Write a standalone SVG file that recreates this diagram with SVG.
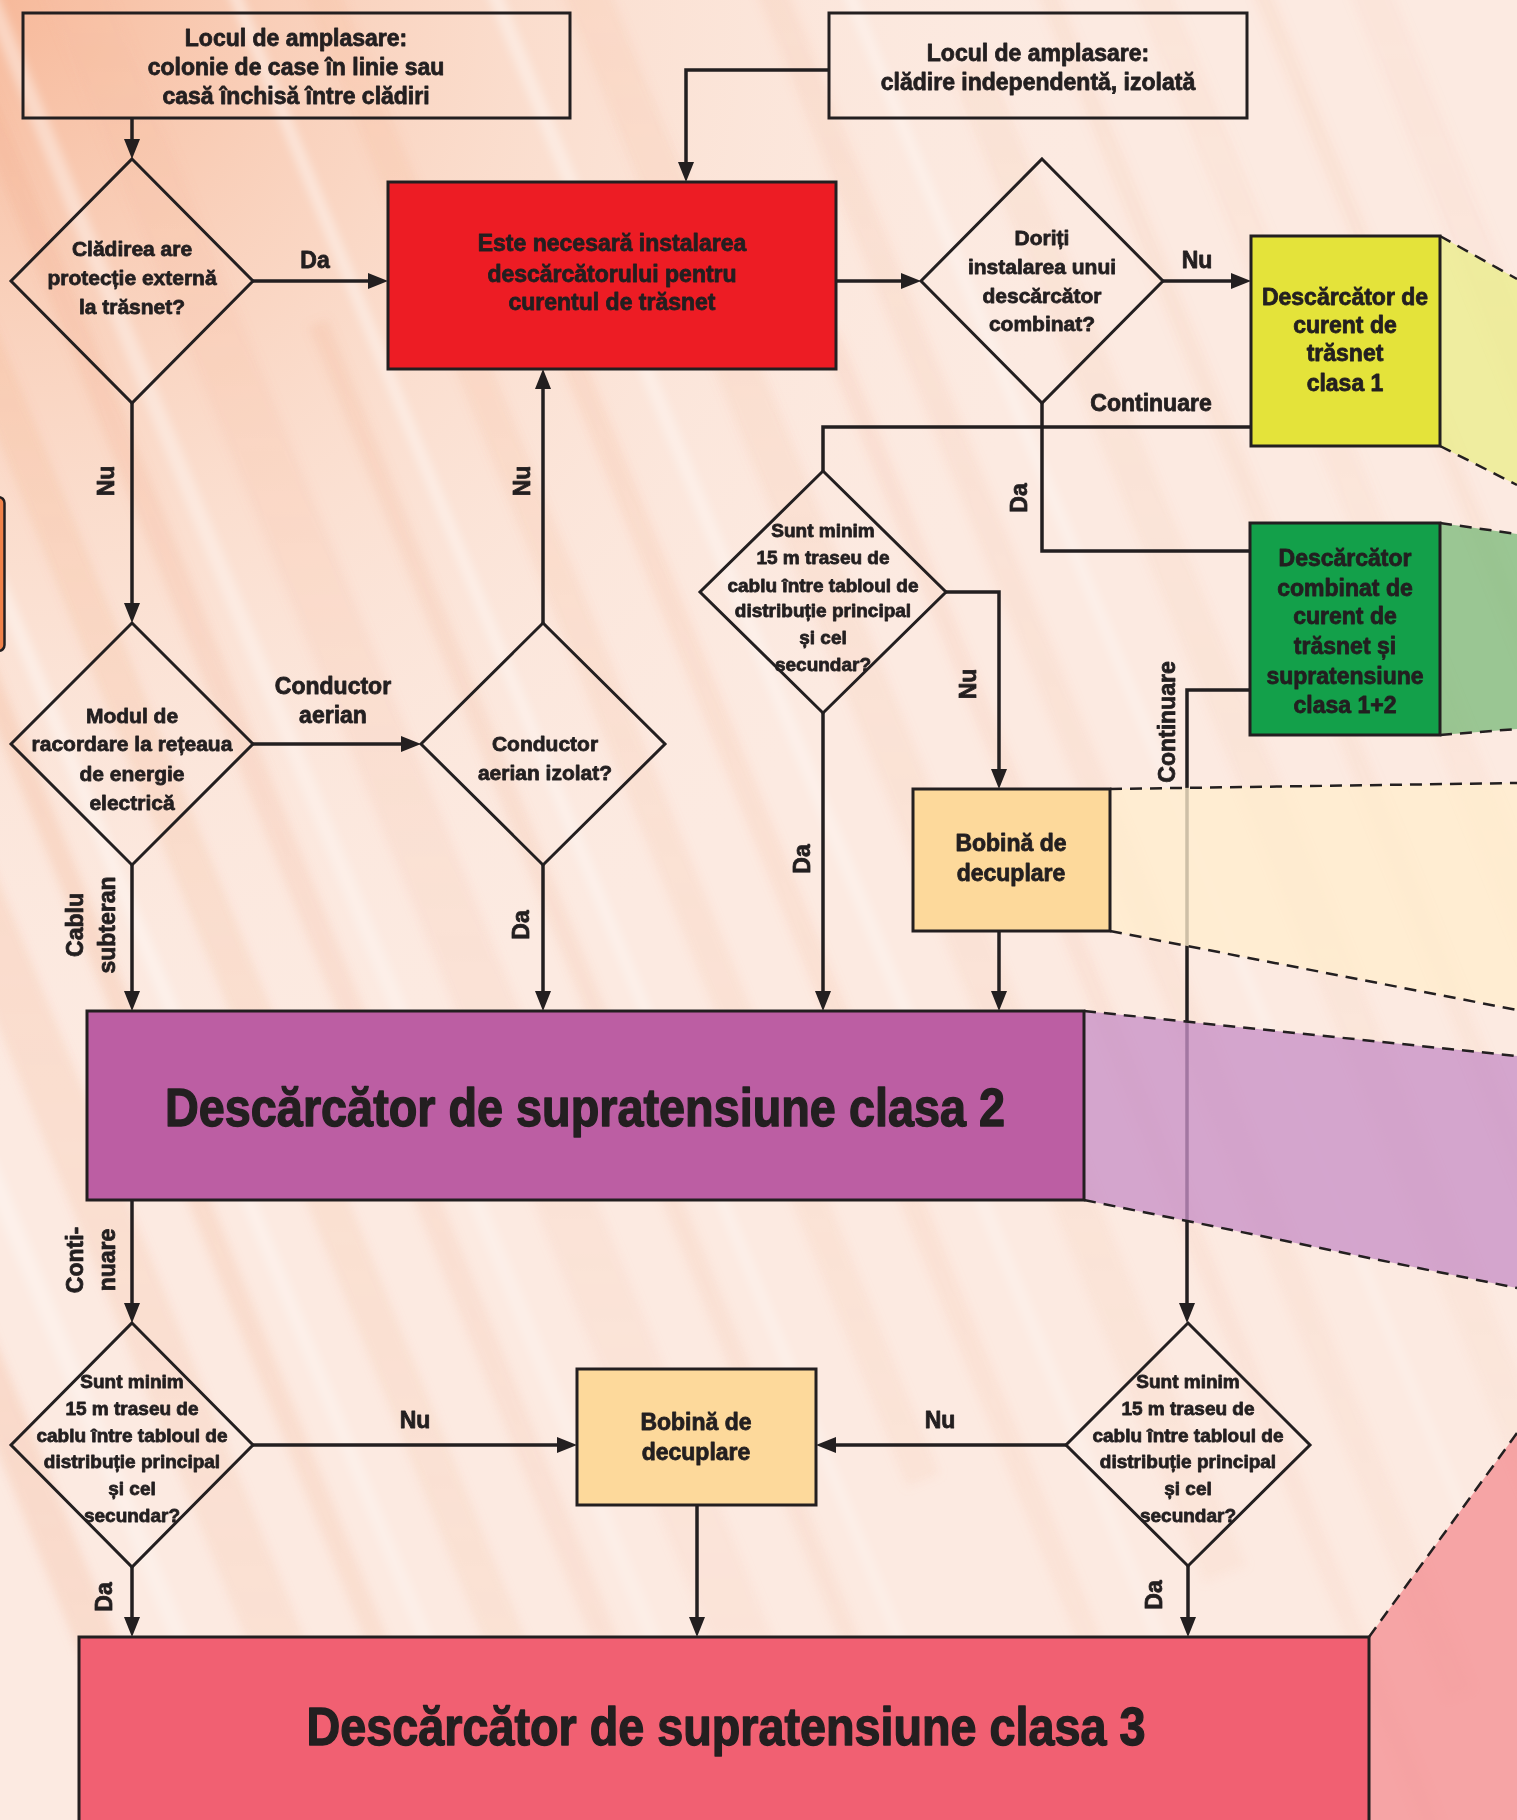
<svg xmlns="http://www.w3.org/2000/svg" width="1517" height="1820" viewBox="0 0 1517 1820">
<style>
.t{font-family:'Liberation Sans',Arial,'DejaVu Sans',sans-serif;font-weight:bold;fill:#231F20;stroke:#231F20;stroke-width:0.8;stroke-linejoin:round;text-anchor:middle}
.tb{font-size:23px}
.td{font-size:21px}
.ts{font-size:19px}
.tl{font-size:23px}
.tt{font-size:53px;stroke-width:1.4}
.box{stroke:#231F20;stroke-width:3}
.open{fill:none;stroke:#231F20;stroke-width:3}
.con{fill:none;stroke:#231F20;stroke-width:3.5}
.arr{marker-end:url(#ah)}
.dash{fill:none;stroke:#231F20;stroke-width:2.5;stroke-dasharray:12 8}
.ext{stroke:none;opacity:0.78}
</style>
<defs>
<marker id="ah" markerUnits="userSpaceOnUse" markerWidth="20" markerHeight="16" refX="15" refY="8" orient="auto">
<path d="M0,0 L20,8 L0,16 Z" fill="#231F20"/>
</marker>
<radialGradient id="bgOr" cx="0" cy="0" r="1100" gradientUnits="userSpaceOnUse">
<stop offset="0" stop-color="#F5A983" stop-opacity="0.75"/>
<stop offset="0.5" stop-color="#F8C3A5" stop-opacity="0.3"/>
<stop offset="1" stop-color="#FCE6DA" stop-opacity="0"/>
</radialGradient>
<linearGradient id="fadeG" x1="0" y1="0" x2="0" y2="1">
<stop offset="0" stop-color="#fff" stop-opacity="1"/>
<stop offset="0.55" stop-color="#fff" stop-opacity="0.7"/>
<stop offset="1" stop-color="#fff" stop-opacity="0.45"/>
</linearGradient>
<mask id="fade" maskUnits="userSpaceOnUse" x="0" y="0" width="1517" height="1820">
<rect x="0" y="0" width="1517" height="1820" fill="url(#fadeG)"/>
</mask>
<filter id="blur" x="-20%" y="-20%" width="140%" height="140%"><feGaussianBlur stdDeviation="5"/></filter>
</defs>

<g id="background">
<rect x="0" y="0" width="1517" height="1820" fill="#FCEAE1"/>
<rect x="0" y="0" width="1517" height="1820" fill="url(#bgOr)"/>
<g mask="url(#fade)">
<g filter="url(#blur)" transform="rotate(-22 760 910)">
<rect x="-150" y="-700" width="40" height="3400" fill="#F3A57F" opacity="0.4"/>
<rect x="-60" y="-700" width="18" height="3400" fill="#FFFFFF" opacity="0.5"/>
<rect x="10" y="-700" width="55" height="3400" fill="#F4AE8A" opacity="0.3"/>
<rect x="120" y="-700" width="22" height="3400" fill="#F2A27C" opacity="0.3"/>
<rect x="170" y="-700" width="14" height="3400" fill="#FFFFFF" opacity="0.5"/>
<rect x="230" y="-200" width="40" height="2000" fill="#F5B593" opacity="0.3"/>
<rect x="330" y="-700" width="26" height="3400" fill="#F3A986" opacity="0.25"/>
<rect x="380" y="-700" width="16" height="3400" fill="#FFFFFF" opacity="0.4"/>
<rect x="440" y="-700" width="60" height="2600" fill="#F7C1A4" opacity="0.25"/>
<rect x="560" y="200" width="20" height="3000" fill="#F4B08E" opacity="0.25"/>
<rect x="610" y="-700" width="12" height="3400" fill="#FFFFFF" opacity="0.45"/>
<rect x="680" y="-700" width="35" height="2200" fill="#F6BC9D" opacity="0.25"/>
<rect x="780" y="300" width="24" height="3000" fill="#F3AB88" opacity="0.2"/>
<rect x="850" y="-700" width="14" height="3400" fill="#FFFFFF" opacity="0.4"/>
<rect x="920" y="-700" width="45" height="2400" fill="#F7C4A8" opacity="0.25"/>
<rect x="1030" y="400" width="20" height="3000" fill="#F4B394" opacity="0.2"/>
<rect x="1100" y="-700" width="30" height="2600" fill="#F6BEA1" opacity="0.2"/>
<rect x="1180" y="-700" width="12" height="3400" fill="#FFFFFF" opacity="0.35"/>
<rect x="1250" y="200" width="40" height="3000" fill="#F7C6AB" opacity="0.2"/>
<rect x="1360" y="-700" width="20" height="3400" fill="#F4B596" opacity="0.15"/>
<rect x="1450" y="-700" width="35" height="3400" fill="#F7C8AE" opacity="0.15"/>
<rect x="1560" y="-700" width="18" height="3400" fill="#F4B596" opacity="0.15"/>
<rect x="1650" y="-700" width="40" height="3400" fill="#F8CCB4" opacity="0.15"/>
</g>
</g>
<rect x="-30" y="497" width="34.5" height="154" rx="6" fill="#F0824A" stroke="#231F20" stroke-width="2.5"/>
</g>

<g id="connectors">
<path class="con arr" d="M132,118 V154"/>
<path class="con arr" d="M253,281 H383"/>
<path class="con arr" d="M829,70 H686 V177"/>
<path class="con arr" d="M836,281 H916"/>
<path class="con arr" d="M1163,281 H1246"/>
<path class="con" d="M1251,427 H823 V471"/>
<path class="con" d="M1042,403 V551 H1250"/>
<path class="con arr" d="M132,403 V618"/>
<path class="con arr" d="M253,744 H416"/>
<path class="con arr" d="M543,623 V374"/>
<path class="con arr" d="M132,865 V1006"/>
<path class="con arr" d="M543,865 V1006"/>
<path class="con arr" d="M946,592 H999 V784"/>
<path class="con arr" d="M823,713 V1006"/>
<path class="con arr" d="M999,931 V1006"/>
<path class="con arr" d="M1250,690 H1187 V1318"/>
<path class="con arr" d="M132,1200 V1318"/>
<path class="con arr" d="M253,1445 H572"/>
<path class="con arr" d="M1066,1445 H821"/>
<path class="con arr" d="M132,1567 V1632"/>
<path class="con arr" d="M697,1505 V1632"/>
<path class="con arr" d="M1188,1566 V1632"/>
<g class="t tl">
<text x="315" y="268">Da</text>
<text x="1197" y="268">Nu</text>
<text x="1151" y="411">Continuare</text>
<text x="333" y="694">Conductor</text>
<text x="333" y="723">aerian</text>
<text x="415" y="1428">Nu</text>
<text x="940" y="1428">Nu</text>
<text transform="translate(106,481) rotate(-90)" y="8.2">Nu</text>
<text transform="translate(522,481) rotate(-90)" y="8.2">Nu</text>
<text transform="translate(75,925) rotate(-90)" y="8.2">Cablu</text>
<text transform="translate(107,925) rotate(-90)" y="8.2">subteran</text>
<text transform="translate(521,925) rotate(-90)" y="8.2">Da</text>
<text transform="translate(1019,498) rotate(-90)" y="8.2">Da</text>
<text transform="translate(968,684) rotate(-90)" y="8.2">Nu</text>
<text transform="translate(802,859) rotate(-90)" y="8.2">Da</text>
<text transform="translate(1167,722) rotate(-90)" y="8.2">Continuare</text>
<text transform="translate(75,1260) rotate(-90)" y="8.2">Conti-</text>
<text transform="translate(107,1260) rotate(-90)" y="8.2">nuare</text>
<text transform="translate(104,1597) rotate(-90)" y="8.2">Da</text>
<text transform="translate(1154,1595) rotate(-90)" y="8.2">Da</text>
</g>
</g>

<g id="extensions">
<polygon class="ext" points="1440,236 1517,279 1517,485 1440,446" fill="#EAED8C"/>
<polygon class="ext" points="1440,523 1517,534 1517,729 1440,735" fill="#7EBB7C"/>
<polygon class="ext" points="1110,789 1517,783 1517,1010 1110,931" fill="#FFEDCD"/>
<polygon class="ext" points="1084,1011 1517,1056 1517,1288 1084,1200" fill="#C891C7"/>
<polygon class="ext" points="1369,1637 1517,1433 1517,1820 1369,1820" fill="#F38F94"/>
<path class="dash" d="M1440,236 L1517,279 M1440,446 L1517,485"/>
<path class="dash" d="M1440,523 L1517,534 M1440,735 L1517,729"/>
<path class="dash" d="M1110,789 L1517,783 M1110,931 L1517,1010"/>
<path class="dash" d="M1084,1011 L1517,1056 M1084,1200 L1517,1288"/>
<path class="dash" d="M1369,1637 L1517,1433"/>
</g>

<g id="n_loc1">
<rect class="open" x="23" y="13" width="547" height="105"/>
<g class="t tb"><text x="296" y="46">Locul de amplasare:</text><text x="296" y="75">colonie de case în linie sau</text><text x="296" y="104">casă închisă între clădiri</text></g>
</g>
<g id="n_loc2">
<rect class="open" x="829" y="13" width="418" height="105"/>
<g class="t tb"><text x="1038" y="61">Locul de amplasare:</text><text x="1038" y="90">clădire independentă, izolată</text></g>
</g>
<g id="n_q_protectie">
<path class="open" d="M132,159 L253,281 L132,403 L11,281 Z"/>
<g class="t td"><text x="132" y="256">Clădirea are</text><text x="132" y="285">protecție externă</text><text x="132" y="314">la trăsnet?</text></g>
</g>
<g id="n_necesar">
<rect class="box" x="388" y="182" width="448" height="187" fill="#ED1C24"/>
<g class="t tb"><text x="612" y="251">Este necesară instalarea</text><text x="612" y="282">descărcătorului pentru</text><text x="612" y="310">curentul de trăsnet</text></g>
</g>
<g id="n_q_combinat">
<path class="open" d="M1042,159 L1163,281 L1042,403 L921,281 Z"/>
<g class="t td"><text x="1042" y="245">Doriți</text><text x="1042" y="274">instalarea unui</text><text x="1042" y="303">descărcător</text><text x="1042" y="331">combinat?</text></g>
</g>
<g id="n_clasa1">
<rect class="box" x="1251" y="236" width="189" height="210" fill="#E4E33A"/>
<g class="t tb"><text x="1345" y="305">Descărcător de</text><text x="1345" y="333">curent de</text><text x="1345" y="361">trăsnet</text><text x="1345" y="391">clasa 1</text></g>
</g>
<g id="n_clasa12">
<rect class="box" x="1250" y="523" width="190" height="212" fill="#13A04A"/>
<g class="t tb"><text x="1345" y="566">Descărcător</text><text x="1345" y="596">combinat de</text><text x="1345" y="624">curent de</text><text x="1345" y="654">trăsnet și</text><text x="1345" y="684">supratensiune</text><text x="1345" y="713">clasa 1+2</text></g>
</g>
<g id="n_q_15m_a">
<path class="open" d="M823,471 L946,592 L823,713 L700,592 Z"/>
<g class="t ts"><text x="823" y="537">Sunt minim</text><text x="823" y="564">15 m traseu de</text><text x="823" y="592">cablu între tabloul de</text><text x="823" y="617">distribuție principal</text><text x="823" y="644">și cel</text><text x="823" y="671">secundar?</text></g>
</g>
<g id="n_q_racord">
<path class="open" d="M132,623 L253,744 L132,865 L11,744 Z"/>
<g class="t td"><text x="132" y="723">Modul de</text><text x="132" y="751">racordare la rețeaua</text><text x="132" y="781">de energie</text><text x="132" y="810">electrică</text></g>
</g>
<g id="n_q_izolat">
<path class="open" d="M543,623 L665,744 L543,865 L421,744 Z"/>
<g class="t td"><text x="545" y="751">Conductor</text><text x="545" y="780">aerian izolat?</text></g>
</g>
<g id="n_bobina1">
<rect class="box" x="913" y="789" width="197" height="142" fill="#FDD99B"/>
<g class="t tb"><text x="1011" y="851">Bobină de</text><text x="1011" y="881">decuplare</text></g>
</g>
<g id="n_clasa2">
<rect class="box" x="87" y="1011" width="997" height="189" fill="#BC5EA3"/>
<text class="t tt" x="585" y="1126" textLength="840" lengthAdjust="spacingAndGlyphs">Descărcător de supratensiune clasa 2</text>
</g>
<g id="n_q_15m_b">
<path class="open" d="M132,1323 L253,1445 L132,1567 L11,1445 Z"/>
<g class="t ts"><text x="132" y="1388">Sunt minim</text><text x="132" y="1415">15 m traseu de</text><text x="132" y="1442">cablu între tabloul de</text><text x="132" y="1468">distribuție principal</text><text x="132" y="1495">și cel</text><text x="132" y="1522">secundar?</text></g>
</g>
<g id="n_bobina2">
<rect class="box" x="577" y="1369" width="239" height="136" fill="#FDD99B"/>
<g class="t tb"><text x="696" y="1430">Bobină de</text><text x="696" y="1460">decuplare</text></g>
</g>
<g id="n_q_15m_c">
<path class="open" d="M1188,1323 L1310,1445 L1188,1566 L1066,1445 Z"/>
<g class="t ts"><text x="1188" y="1388">Sunt minim</text><text x="1188" y="1415">15 m traseu de</text><text x="1188" y="1442">cablu între tabloul de</text><text x="1188" y="1468">distribuție principal</text><text x="1188" y="1495">și cel</text><text x="1188" y="1522">secundar?</text></g>
</g>
<g id="n_clasa3">
<rect class="box" x="79" y="1637" width="1290" height="200" fill="#F16072"/>
<text class="t tt" x="726" y="1745" textLength="839" lengthAdjust="spacingAndGlyphs">Descărcător de supratensiune clasa 3</text>
</g>
</svg>
